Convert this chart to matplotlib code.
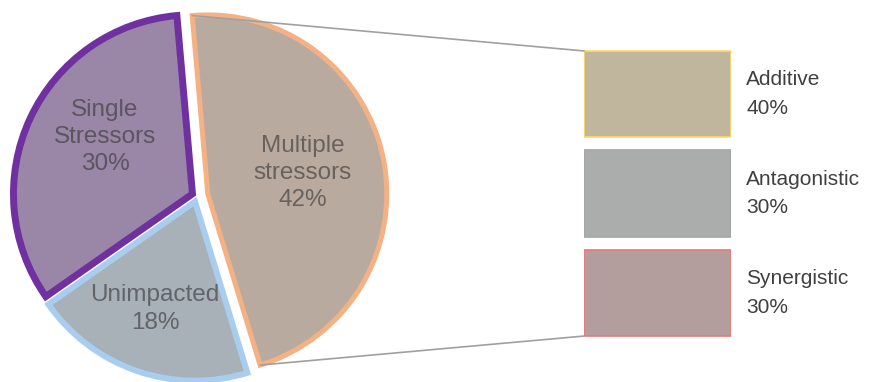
import numpy as np
import matplotlib.pyplot as plt
from matplotlib.patches import ConnectionPatch

plt.rcParams['font.family'] = ['Liberation Sans', 'DejaVu Sans']

# pie data
pie_labels = ["Single\nStressors", "Unimpacted", "Multiple\nstressors"]
pie_values = [30, 18, 42]
pie_fill = ["#9a86a6", "#a8b0b8", "#b9aa9f"]
pie_edge = ["#7030a0", "#a9cdef", "#f4b183"]
pie_lw = [5.0, 4.3, 3.6]
pie_explode = [5, 6, 11]

# breakdown of multiple stressors
sub_labels = ["Additive", "Antagonistic", "Synergistic"]
sub_values = [40, 30, 30]
sub_fill = ["#c0b59d", "#abacac", "#b49d9d"]
sub_edge = ["#ffd966", "#a6a6a6", "#e87878"]

W, H = 883, 382
fig = plt.figure(figsize=(W / 100, H / 100), dpi=100)

# pie axes in pixel units
ax1 = fig.add_axes([0, 0, 1, 1])
wedges, texts = ax1.pie(pie_values, labels=[f"{l}\n{v}%" for l, v in zip(pie_labels, pie_values)],
                        colors=pie_fill, explode=pie_explode, center=(197, 186), radius=179,
                        startangle=95, counterclock=True, labeldistance=0.62,
                        textprops=dict(ha='center', va='center', fontsize=17.5, color='#333333',
                                       alpha=0.6, linespacing=1.3))
for w, ec, lw in zip(wedges, pie_edge, pie_lw):
    w.set_edgecolor(ec)
    w.set_linewidth(lw)
    w.set_joinstyle('miter')

# nudge the wedge labels to where they sit in the original
for t, pos in zip(texts, [(105, 245), (155, 73), (303, 209)]):
    t.set_position(pos)

ax1.set_xlim(0, W)
ax1.set_ylim(0, H)
ax1.axis('off')

# boxes on the right
ax2 = fig.add_axes([584 / W, 39.5 / H, 147 / W, 298 / H])
ypos = list(range(len(sub_labels)))[::-1]
ax2.barh(ypos, [1] * len(sub_labels), height=0.87, color=sub_fill, edgecolor=sub_edge, linewidth=1.2)
ax2.set_xlim(0, 1)
ax2.set_ylim(-0.5, len(sub_labels) - 0.5)
ax2.axis('off')
for y, lab, val in zip(ypos, sub_labels, sub_values):
    ax2.text(1.105, y, f"{lab}\n{val}%", ha='left', va='center', fontsize=15,
             color='#404040', linespacing=1.65, clip_on=False)

# connector lines from the multiple stressors wedge
mw = wedges[2]
for ang, yb in [(mw.theta2, ypos[0] + 0.435), (mw.theta1, ypos[-1] - 0.435)]:
    xa = mw.center[0] + mw.r * np.cos(np.radians(ang))
    ya = mw.center[1] + mw.r * np.sin(np.radians(ang))
    con = ConnectionPatch(xyA=(xa, ya), coordsA=ax1.transData, xyB=(0, yb), coordsB=ax2.transData,
                          color='#a0a0a0', lw=1.2)
    fig.add_artist(con)

fig.savefig('out.png', dpi=100)
